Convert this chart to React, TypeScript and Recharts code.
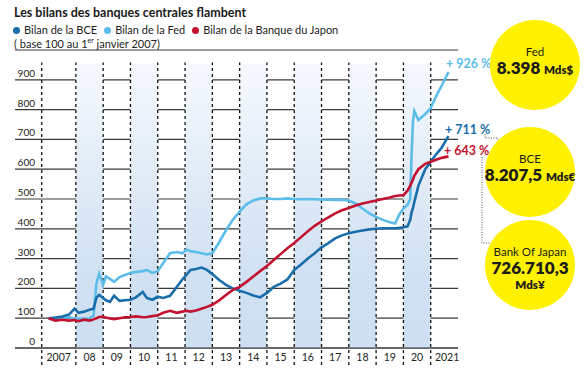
import React from 'react';
import {
  ComposedChart,
  Line,
  XAxis,
  YAxis,
  CartesianGrid,
  ReferenceArea,
  ReferenceLine,
} from 'recharts';

// time (fractional year) of each reading
const T = [
  2007.0, 2007.25, 2007.5, 2007.75, 2007.95, 2008.1, 2008.3, 2008.5, 2008.65, 2008.75,
  2008.85, 2009.0, 2009.1, 2009.25, 2009.4, 2009.6, 2009.8, 2010.0, 2010.2, 2010.45,
  2010.6, 2010.8, 2011.0, 2011.2, 2011.45, 2011.7, 2011.9, 2012.05, 2012.2, 2012.4,
  2012.6, 2012.8, 2013.0, 2013.25, 2013.5, 2013.75, 2014.0, 2014.25, 2014.5, 2014.75,
  2015.0, 2015.25, 2015.5, 2015.75, 2016.0, 2016.25, 2016.5, 2016.75, 2017.0, 2017.25,
  2017.5, 2017.75, 2018.0, 2018.25, 2018.5, 2018.75, 2019.0, 2019.25, 2019.5, 2019.7,
  2019.85, 2020.0, 2020.15, 2020.25, 2020.3, 2020.35, 2020.4, 2020.55, 2020.8, 2021.0,
  2021.2, 2021.4, 2021.65,
];

// base 100 au 1er janvier 2007
const FED = [
  100, 98, 100, 103, 100, 98, 99, 100, 108, 215,
  250, 212, 240, 232, 222, 238, 245, 252, 255, 258,
  262, 252, 258, 285, 318, 322, 318, 330, 325, 322,
  318, 314, 318, 355, 395, 430, 458, 482, 495, 502,
  502, 500, 500, 502, 500, 499, 500, 499, 498, 498,
  497, 497, 495, 485, 468, 452, 440, 430, 422, 418,
  448, 468, 480, 500, 650, 760, 795, 765, 785, 805,
  845, 880, 926,
];

const BCE = [
  100, 102, 106, 112, 132, 118, 122, 128, 132, 168,
  178, 168, 160, 155, 175, 158, 160, 162, 170, 188,
  168, 162, 172, 168, 175, 205, 230, 245, 262, 265,
  270, 262, 248, 228, 212, 200, 192, 185, 176, 170,
  185, 205, 216, 230, 262, 280, 300, 318, 338, 352,
  368, 378, 385, 390, 394, 398, 400, 402, 402, 402,
  403, 405, 408, 430, 455, 470, 490, 545, 600, 625,
  650, 672, 711,
];

const BOJ = [
  100, 92, 95, 92, 94, 90, 95, 92, 96, 100,
  104, 105, 102, 99, 97, 100, 103, 104, 106, 103,
  104, 107, 110, 118, 125, 118, 122, 125, 122, 126,
  132, 138, 145, 160, 178, 195, 205, 222, 240, 258,
  275, 295, 315, 335, 352, 372, 392, 410, 425, 438,
  452, 462, 470, 478, 485, 490, 495, 500, 505, 510,
  512, 513, 528, 545, 555, 565, 578, 600, 618, 625,
  632, 638, 643,
];

const Y_TICKS = [0, 100, 200, 300, 400, 500, 600, 700, 800, 900];
const X_LABELS = ['2007', '08', '09', '10', '11', '12', '13', '14', '15', '16', '17', '18', '19', '20', '2021'];
const X_TICKS = [2007.37, 2008.5, 2009.5, 2010.5, 2011.5, 2012.5, 2013.5, 2014.5, 2015.5, 2016.5, 2017.5, 2018.5, 2019.5, 2020.5, 2021.6];
const SHADED_YEARS = [2008, 2010, 2012, 2014, 2016, 2018, 2020];
const DASH_YEARS = [2006.75, 2008, 2009, 2010, 2011, 2012, 2013, 2014, 2015, 2016, 2017, 2018, 2019, 2020, 2021];

const C_BCE = '#1a6dab';
const C_FED = '#5cbde9';
const C_BOJ = '#c3122f';

const data = T.map((t, i) => ({ t, fed: FED[i], bce: BCE[i], boj: BOJ[i] }));

const FONT = 'Lato, "Open Sans", sans-serif';

const YTick = (props: any) => (
  <text x={35} y={props.y - 3} textAnchor="end" fontSize={10} fill="#222" fontFamily={FONT}>
    {props.payload.value}
  </text>
);

const XTick = (props: any) => {
  const i = X_TICKS.indexOf(props.payload.value);
  return (
    <text x={props.x} y={361} textAnchor="middle" fontSize={10.5} fill="#222" fontFamily={FONT}>
      {X_LABELS[i]}
    </text>
  );
};

const Bullet = ({ color }: { color: string }) => (
  <span style={{ display: 'inline-block', width: 7, height: 7, borderRadius: '50%', background: color, marginRight: 4, verticalAlign: 'middle', position: 'relative', top: -1 }} />
);

const circle = (left: number, top: number): React.CSSProperties => ({
  position: 'absolute',
  left,
  top,
  width: 90,
  height: 90,
  borderRadius: '50%',
  background: '#fff100',
  display: 'flex',
  flexDirection: 'column',
  alignItems: 'center',
  justifyContent: 'center',
  color: '#1c1c1c',
  textAlign: 'center',
  boxSizing: 'border-box',
});

const pct = (left: number, top: number, color: string): React.CSSProperties => ({
  position: 'absolute',
  left,
  top,
  fontSize: 12.5,
  fontWeight: 700,
  lineHeight: '14px',
  color,
  whiteSpace: 'nowrap',
});

export default function App() {
  return (
    <div style={{ position: 'absolute', left: 0, top: 0, width: 588, height: 376, background: '#fff', fontFamily: FONT }}>
      <ComposedChart width={588} height={376} data={data} margin={{ top: 50, right: 130, bottom: 0, left: 15 }}>
        <defs>
          <linearGradient id="bandGrad" x1="0" y1="0" x2="0" y2="1">
            <stop offset="0%" stopColor="#f5f9fd" />
            <stop offset="45%" stopColor="#dfeaf6" />
            <stop offset="75%" stopColor="#d0e1f3" />
            <stop offset="100%" stopColor="#cddff2" />
          </linearGradient>
        </defs>
        {SHADED_YEARS.map((y) => (
          <ReferenceArea key={y} x1={y} x2={y + 1} y1={0} y2={955} fill="url(#bandGrad)" fillOpacity={1} stroke="none" />
        ))}
        <CartesianGrid vertical={false} stroke="#3a3a3a" strokeWidth={1.2} />
        {DASH_YEARS.map((y) => (
          <ReferenceLine
            key={y}
            segment={[{ x: y, y: -57 }, { x: y, y: 958 }]}
            stroke="#111"
            strokeWidth={1.3}
            strokeDasharray="3 3"
            ifOverflow="visible"
          />
        ))}
        <XAxis
          type="number"
          dataKey="t"
          domain={[2005.77, 2022]}
          ticks={X_TICKS}
          tick={XTick}
          tickLine={false}
          axisLine={{ stroke: '#333', strokeWidth: 1.2 }}
          height={28}
          interval={0}
          allowDataOverflow
        />
        <YAxis
          type="number"
          domain={[0, 1000]}
          ticks={Y_TICKS}
          tick={YTick}
          mirror
          axisLine={false}
          tickLine={false}
          interval={0}
        />
        <Line type="linear" dataKey="fed" stroke={C_FED} strokeWidth={2.6} dot={false} isAnimationActive={false} />
        <Line type="linear" dataKey="bce" stroke={C_BCE} strokeWidth={2.6} dot={false} isAnimationActive={false} />
        <Line type="linear" dataKey="boj" stroke={C_BOJ} strokeWidth={2.6} dot={false} isAnimationActive={false} />
      </ComposedChart>

      <div style={{ position: 'absolute', left: 14, top: 5, fontSize: 12.5, fontWeight: 700, lineHeight: '15px', color: '#1a1a1a', whiteSpace: 'nowrap' }}>
        Les bilans des banques centrales flambent
      </div>
      <div style={{ position: 'absolute', left: 13, top: 23, fontSize: 11, lineHeight: '14px', color: '#222', whiteSpace: 'nowrap' }}>
        <Bullet color={C_BCE} />Bilan de la BCE
        <span style={{ marginLeft: 7 }} />
        <Bullet color={C_FED} />Bilan de la Fed
        <span style={{ marginLeft: 7 }} />
        <Bullet color={C_BOJ} />Bilan de la Banque du Japon
      </div>
      <div style={{ position: 'absolute', left: 14, top: 37, fontSize: 11, lineHeight: '14px', color: '#222', whiteSpace: 'nowrap' }}>
        ( base 100 au 1<sup style={{ fontSize: 7, lineHeight: 0 }}>er</sup> janvier 2007)
      </div>

      <div style={pct(446, 57, C_FED)}>+ 926 %</div>
      <div style={pct(445, 123, C_BCE)}>+ 711 %</div>
      <div style={pct(444, 144, C_BOJ)}>+ 643 %</div>

      <svg width={588} height={376} style={{ position: 'absolute', left: 0, top: 0, pointerEvents: 'none' }}>
        <polyline points="485,134 485,138 498,138 498,146" fill="none" stroke="#555" strokeWidth={1} strokeDasharray="1 1.5" />
        <polyline points="482,157 482,243 492,243" fill="none" stroke="#555" strokeWidth={1} strokeDasharray="1 1.5" />
      </svg>

      <div style={{ ...circle(490, 20), paddingBottom: 6 }}>
        <div style={{ fontSize: 11.5, lineHeight: '14px' }}>Fed</div>
        <div style={{ lineHeight: '18px', fontWeight: 800, whiteSpace: 'nowrap' }}>
          <span style={{ fontSize: 17 }}>8.398</span> <span style={{ fontSize: 11.5 }}>Mds$</span>
        </div>
      </div>
      <div style={{ ...circle(485, 127), paddingBottom: 7 }}>
        <div style={{ fontSize: 11.5, lineHeight: '14px' }}>BCE</div>
        <div style={{ lineHeight: '18px', fontWeight: 800, whiteSpace: 'nowrap' }}>
          <span style={{ fontSize: 17 }}>8.207,5</span> <span style={{ fontSize: 11.5 }}>Mds€</span>
        </div>
      </div>
      <div style={{ ...circle(485, 220), paddingTop: 8 }}>
        <div style={{ fontSize: 11.5, lineHeight: '14px' }}>Bank Of Japan</div>
        <div style={{ fontSize: 17, lineHeight: '18px', fontWeight: 800 }}>726.710,3</div>
        <div style={{ fontSize: 11.5, lineHeight: '16px', fontWeight: 800 }}>Mds¥</div>
      </div>
    </div>
  );
}
